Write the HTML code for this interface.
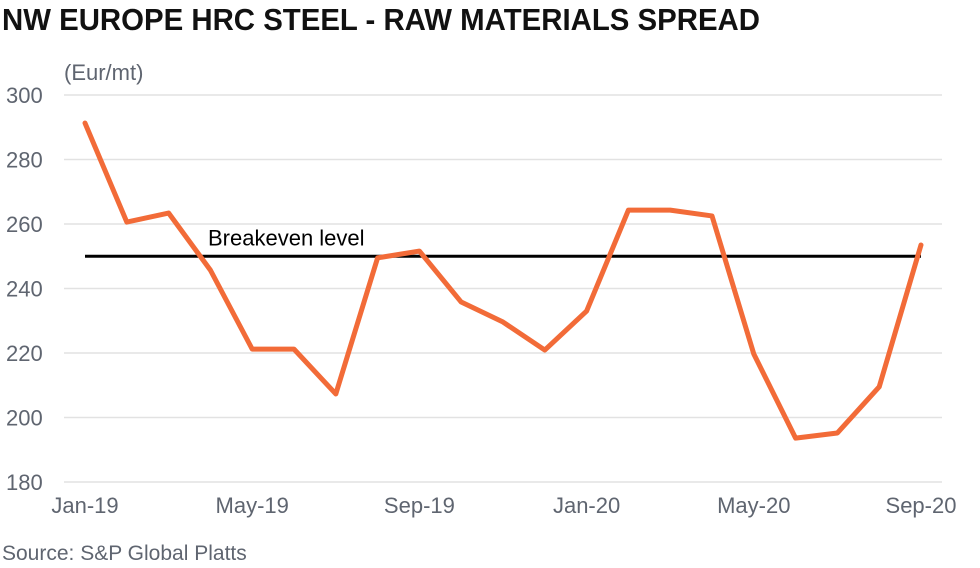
<!DOCTYPE html>
<html><head><meta charset="utf-8"><style>
body{margin:0;background:#fff;width:980px;height:568px;overflow:hidden}
svg{display:block}
text{font-family:"Liberation Sans Narrow","Liberation Sans",sans-serif}
</style></head><body>
<svg id="chart" width="980" height="568">
<text x="2" y="30" font-size="31" font-weight="bold" fill="#111" textLength="758" lengthAdjust="spacingAndGlyphs">NW EUROPE HRC STEEL - RAW MATERIALS SPREAD</text>
<text x="64" y="80" font-size="22" fill="#5f6570">(Eur/mt)</text>
<text x="2" y="560" font-size="21" fill="#5f6570">Source: S&amp;P Global Platts</text>
<g id="grid"></g><g id="yt"></g><g id="xt"></g><g id="series"></g>
</svg>
<script>
const months = ["Jan-19","Feb-19","Mar-19","Apr-19","May-19","Jun-19","Jul-19","Aug-19","Sep-19","Oct-19","Nov-19","Dec-19","Jan-20","Feb-20","Mar-20","Apr-20","May-20","Jun-20","Jul-20","Aug-20","Sep-20"];
const spread = [291.3,260.6,263.4,245.7,221.2,221.2,207.3,249.5,251.6,235.8,229.6,220.9,233,264.3,264.3,262.5,219.7,193.6,195.2,209.5,253.5];
const breakeven = 250;
const yTicks = [180,200,220,240,260,280,300];
const xTickLabels = ["Jan-19","May-19","Sep-19","Jan-20","May-20","Sep-20"];
const NS="http://www.w3.org/2000/svg";
const y = v => 482 - (v-180)*(387/120);
const x = i => 85 + i*(836/20);
function mk(tag, attrs, parent){const e=document.createElementNS(NS,tag);for(const k in attrs)e.setAttribute(k,attrs[k]);document.getElementById(parent).appendChild(e);return e;}
yTicks.forEach(t=>{
  const l=mk('line',{x1:64,x2:942,y1:y(t),y2:y(t),stroke:'#e2e2e2','stroke-width':1.5},'grid');
  
  
  const tx=mk('text',{x:6,y:y(t)+8,'font-size':22,fill:'#5f6570'},'yt');
  tx.textContent=t;
  
  
});
xTickLabels.forEach(lbl=>{
  const i=months.indexOf(lbl);
  const tx=mk('text',{x:x(i),y:513,'font-size':22,fill:'#5f6570','text-anchor':'middle'},'xt');
  tx.textContent=lbl;
  
  
});
const be=mk('line',{x1:x(0),x2:x(months.length-1),y1:y(breakeven),y2:y(breakeven),stroke:'#000','stroke-width':3},'series');


const bt=mk('text',{x:208,y:y(breakeven)-11,'font-size':22,fill:'#000'},'series');
bt.textContent='Breakeven level';


const pl=mk('polyline',{points:spread.map((v,i)=>x(i)+','+y(v)).join(' '),fill:'none',stroke:'#f26b38','stroke-width':5,'stroke-linejoin':'round','stroke-linecap':'round'},'series');


</script>
</body></html>
